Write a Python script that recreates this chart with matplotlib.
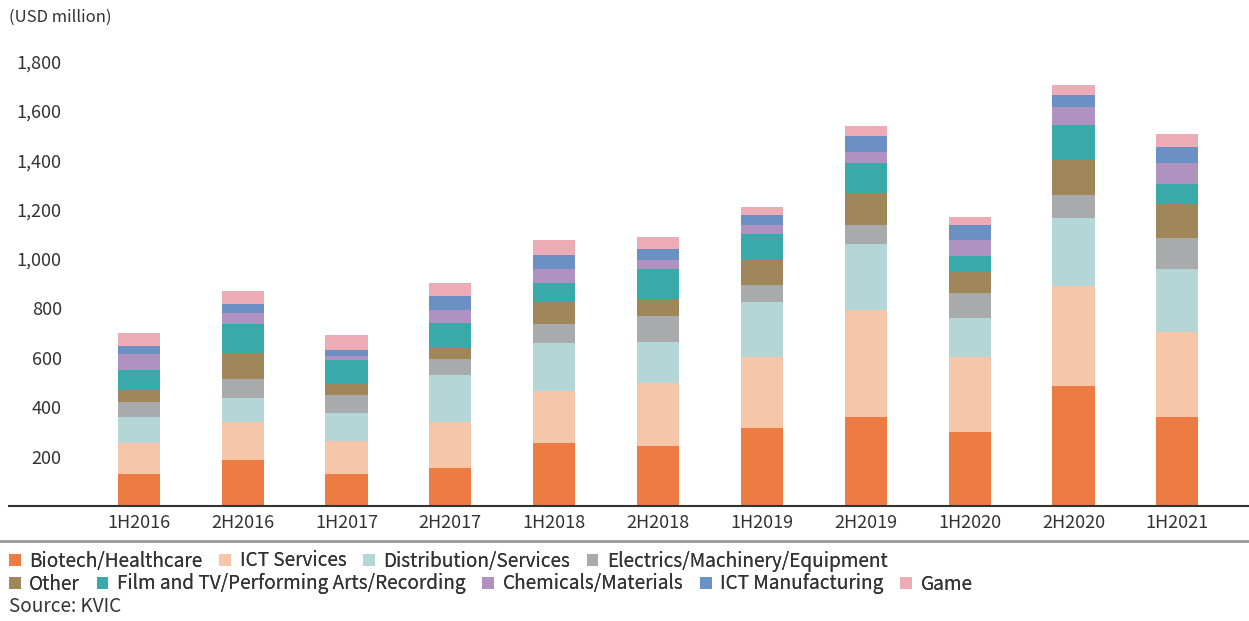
import numpy as np
import matplotlib.pyplot as plt
from matplotlib.patches import Patch
from matplotlib.ticker import FuncFormatter

plt.rcParams['font.family'] = ['Noto Sans CJK KR', 'DejaVu Sans']

periods = ["1H2016", "2H2016", "1H2017", "2H2017", "1H2018", "2H2018",
           "1H2019", "2H2019", "1H2020", "2H2020", "1H2021"]

# USD million
biotech      = [130, 186, 130, 154, 255, 243, 316, 360, 300, 486, 360]
ict_services = [124, 154, 133, 186, 211, 255, 287, 435, 303, 406, 346]
distribution = [106,  97, 114, 191, 194, 166, 223, 266, 158, 274, 254]
electrics    = [ 61,  77,  73,  64,  77, 106,  69,  77, 101,  94, 125]
other        = [ 49, 104,  44,  45,  90,  68, 103, 130,  85, 143, 139]
film_tv      = [ 81, 119,  97, 101,  76, 122, 104, 121,  65, 140,  80]
chemicals    = [ 65,  45,  16,  53,  57,  36,  36,  45,  65,  73,  85]
ict_manuf    = [ 32,  36,  25,  57,  57,  45,  41,  65,  61,  49,  65]
game         = [ 53,  53,  61,  52,  60,  49,  32,  40,  32,  40,  53]

names = ["Biotech/Healthcare", "ICT Services", "Distribution/Services",
         "Electrics/Machinery/Equipment", "Other",
         "Film and TV/Performing Arts/Recording", "Chemicals/Materials",
         "ICT Manufacturing", "Game"]
series = [biotech, ict_services, distribution, electrics, other,
          film_tv, chemicals, ict_manuf, game]
colors = ["#EC7C44", "#F7C5A7", "#B4D6D6", "#A9AAAB", "#A1865A",
          "#3AA9A9", "#AF92BF", "#6B90C3", "#EDABB5"]

fig = plt.figure(figsize=(12.49, 6.21), dpi=100)
ax = fig.add_axes([9 / 1249, 115 / 621, 1240 / 1249, 466 / 621])

x = np.arange(len(periods))
bottom = np.zeros(len(periods))
for vals, c in zip(series, colors):
    ax.bar(x, vals, bottom=bottom, width=0.405, color=c, linewidth=0)
    bottom += np.array(vals)

ax.set_xlim(-1.25, 10.69)
ax.set_ylim(0, 1887)
ax.set_yticks(range(200, 1801, 200))
ax.yaxis.set_major_formatter(FuncFormatter(lambda v, p: f"{int(v):,}"))
ax.set_xticks(x)
ax.set_xticklabels(periods)

for s in ["top", "right", "left"]:
    ax.spines[s].set_visible(False)
ax.spines["bottom"].set_color("#333333")
ax.spines["bottom"].set_linewidth(1.5)

ax.tick_params(axis="y", length=0, pad=-38, labelsize=13, labelcolor="#333333")
for lab in ax.get_yticklabels():
    lab.set_horizontalalignment("right")
ax.tick_params(axis="x", length=0, pad=6, labelsize=13, labelcolor="#333333")

fig.text(9 / 1249, 1 - 17 / 621, "(USD million)", fontsize=12,
         color="#333333", va="center", ha="left")

# separator under the axis
fig.add_artist(plt.Line2D([0, 1], [1 - 541 / 621] * 2, color="#999999",
                          linewidth=2, transform=fig.transFigure))

handles = [Patch(facecolor=c, edgecolor="none") for c in colors]
rows = [(0, 4, 561), (4, 9, 584)]
for a, b, ypix in rows:
    leg = fig.legend(handles[a:b], names[a:b], ncol=b - a,
                     loc="center left", bbox_to_anchor=(9 / 1249, 1 - ypix / 621),
                     frameon=False, fontsize=13.7, handlelength=0.62,
                     handleheight=0.62, handletextpad=0.45, columnspacing=0.87,
                     borderpad=0, borderaxespad=0)
    for t in leg.get_texts():
        t.set_color("#333333")
    fig.add_artist(leg)

fig.text(9 / 1249, 1 - 607 / 621, "Source: KVIC", fontsize=13.7,
         color="#333333", va="center", ha="left")

fig.savefig("out.png", dpi=100)
